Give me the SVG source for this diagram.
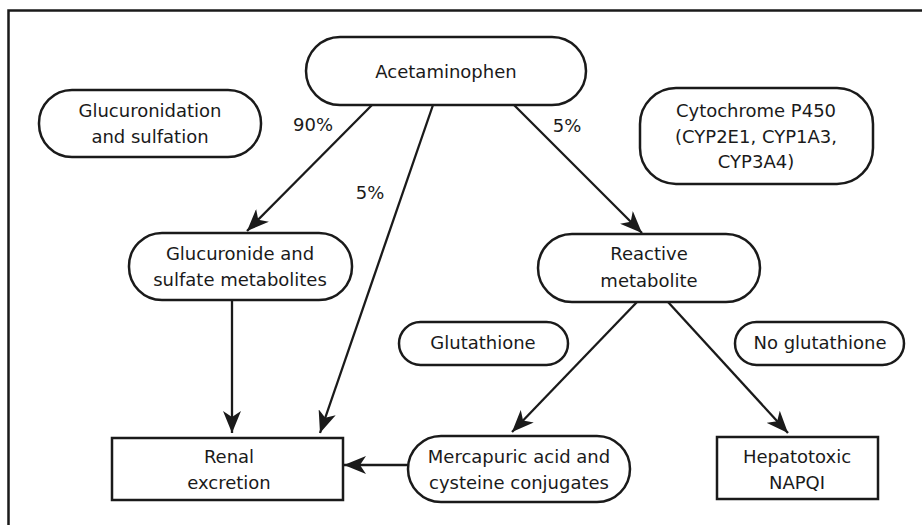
<svg xmlns="http://www.w3.org/2000/svg" width="922" height="525" viewBox="0 0 922 525">
<defs>
<marker id="ah" viewBox="0 0 22 18" refX="22" refY="9" markerWidth="22" markerHeight="18" markerUnits="userSpaceOnUse" orient="auto">
<path d="M0,0 L22,9 L0,18 L6,9 Z" fill="#1a1a1a"/>
</marker>
<style>
.n{fill:#fff;stroke:#1a1a1a;stroke-width:2.5}
.t{font-family:"DejaVu Sans",sans-serif;font-size:18px;fill:#1a1a1a;text-anchor:middle}
.c{stroke:#1a1a1a;stroke-width:2.3;fill:none;marker-end:url(#ah)}
</style>
</defs>
<rect x="0" y="0" width="922" height="525" fill="#fff"/>
<rect x="8.5" y="10.5" width="930" height="530" fill="none" stroke="#1a1a1a" stroke-width="2.5"/>
<g id="connectors">
<line class="c" x1="372" y1="105" x2="247" y2="231"/>
<line class="c" x1="433" y1="105" x2="320" y2="433"/>
<line class="c" x1="232" y1="300" x2="232" y2="433"/>
<line class="c" x1="514" y1="105" x2="642" y2="233"/>
<line class="c" x1="637" y1="302" x2="512" y2="432"/>
<line class="c" x1="668" y1="302" x2="788" y2="433"/>
<line class="c" x1="408" y1="465" x2="344" y2="465"/>
</g>
<g id="labels">
<text class="t" x="313" y="131">90%</text>
<text class="t" x="370" y="199">5%</text>
<text class="t" x="567" y="132">5%</text>
</g>
<g id="acetaminophen">
<rect class="n" x="306" y="37" width="280" height="68" rx="34"/>
<text class="t" x="446" y="78">Acetaminophen</text>
</g>
<g id="glucuronidation">
<rect class="n" x="39" y="90" width="222" height="67" rx="33"/>
<text class="t" x="150" y="117">Glucuronidation</text>
<text class="t" x="150" y="143">and sulfation</text>
</g>
<g id="cytochrome">
<rect class="n" x="640" y="88" width="233" height="96" rx="36"/>
<text class="t" x="756" y="117">Cytochrome P450</text>
<text class="t" x="756" y="143">(CYP2E1, CYP1A3,</text>
<text class="t" x="756" y="168">CYP3A4)</text>
</g>
<g id="glucuronide">
<rect class="n" x="129" y="233" width="223" height="67" rx="33"/>
<text class="t" x="240" y="260">Glucuronide and</text>
<text class="t" x="240" y="286">sulfate metabolites</text>
</g>
<g id="reactive">
<rect class="n" x="538" y="234" width="222" height="68" rx="34"/>
<text class="t" x="649" y="260">Reactive</text>
<text class="t" x="649" y="287">metabolite</text>
</g>
<g id="glutathione">
<rect class="n" x="399" y="322" width="169" height="43" rx="21.5"/>
<text class="t" x="483" y="349">Glutathione</text>
</g>
<g id="noglutathione">
<rect class="n" x="735" y="322" width="169" height="43" rx="21.5"/>
<text class="t" x="820" y="349">No glutathione</text>
</g>
<g id="renal">
<rect class="n" x="112" y="438" width="231" height="62"/>
<text class="t" x="229" y="463">Renal</text>
<text class="t" x="229" y="489">excretion</text>
</g>
<g id="mercapuric">
<rect class="n" x="408" y="436" width="222" height="66" rx="33"/>
<text class="t" x="519" y="463">Mercapuric acid and</text>
<text class="t" x="519" y="489">cysteine conjugates</text>
</g>
<g id="napqi">
<rect class="n" x="717" y="437" width="161" height="62"/>
<text class="t" x="797" y="463">Hepatotoxic</text>
<text class="t" x="797" y="489">NAPQI</text>
</g>
</svg>
